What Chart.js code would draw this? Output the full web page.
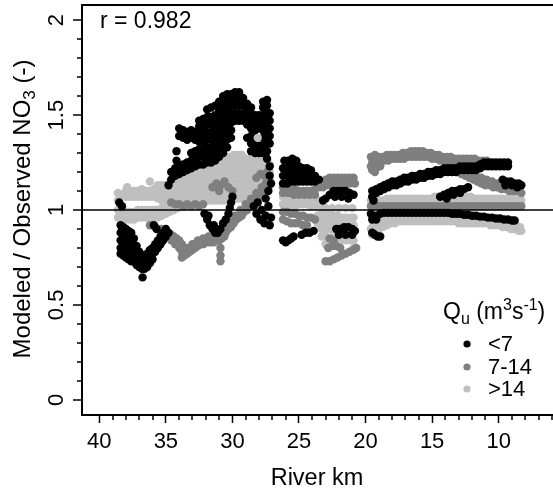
<!DOCTYPE html>
<html>
<head>
<meta charset="utf-8">
<script src="https://cdn.jsdelivr.net/npm/chart.js@4.4.1/dist/chart.umd.min.js"></script>
<style>
html,body{margin:0;padding:0;background:#fff;overflow:hidden;}
#wrap{width:553px;height:492px;overflow:hidden;position:relative;}
canvas{display:block;}
</style>
</head>
<body>
<div id="wrap"><canvas id="c" width="560" height="492" style="width:560px;height:492px"></canvas></div>
<script>
// ---------------- data (river km, modeled/observed NO3 ratio) ----------------
const kmTicks = [10, 15, 20, 25, 30, 35, 40];
const ratioTicks = [0, 0.5, 1, 1.5, 2];
const kmMinorTicks = [6,7,8,9,11,12,13,14,16,17,18,19,21,22,23,24,26,27,28,29,31,32,33,34,36,37,38,39];
const ratioMinorTicks = [0.1,0.2,0.3,0.4,0.6,0.7,0.8,0.9,1.1,1.2,1.3,1.4,1.6,1.7,1.8,1.9];
const refLine = 1;
const corrLabel = 'r = 0.982';
const legendLabels = ['<7', '7-14', '>14'];

// Qu < 7 m3/s
const lowA = [
[38.5,1.04],[38.3,1.02],
[38.4,0.92],[38.4,0.88],[38.4,0.84],[38.4,0.8],[38.4,0.77],
[38.2,0.91],[38.2,0.87],[38.2,0.83],[38.2,0.79],[38.2,0.76],
[38.0,0.9],[38.0,0.86],[38.0,0.82],[38.0,0.78],[38.0,0.75],
[37.8,0.89],[37.8,0.85],[37.8,0.81],[37.8,0.77],[37.8,0.74],
[37.6,0.88],[37.6,0.84],[37.6,0.8],[37.6,0.76],[37.6,0.73],
[37.4,0.85],[37.4,0.81],[37.4,0.77],[37.4,0.73],
[37.2,0.81],[37.2,0.77],[37.2,0.73],[37.2,0.71],
[37.0,0.78],[37.0,0.74],[37.0,0.7],
[36.8,0.76],[36.8,0.72],[36.8,0.69],
[36.75,0.645],
[36.6,0.76],[36.6,0.72],[36.6,0.69],
[36.4,0.77],[36.4,0.73],[36.4,0.7],
[36.2,0.79],[36.2,0.75],[36.2,0.72],
[36.0,0.8],[36.0,0.77],[36.0,0.74],
[35.8,0.82],[35.8,0.78],[35.6,0.84],[35.6,0.8],
[35.4,0.86],[35.4,0.82],[35.2,0.88],[35.2,0.84],
[35.0,0.9],[35.0,0.86],[34.8,0.88],[35.9,0.92],[35.7,0.9],
[34.8,1.13],[34.6,1.16],[34.6,1.2],
[34.3,1.18],[34.3,1.22],[34.2,1.26],[34.2,1.31],
[34.0,1.19],[34.0,1.23],[34.0,1.39],[34.0,1.43],
[33.7,1.2],[33.7,1.24],[33.7,1.38],[33.7,1.42],
[33.4,1.21],[33.4,1.25],[33.4,1.37],[33.4,1.41],
[33.1,1.22],[33.1,1.26],[33.1,1.3],[33.1,1.38],[33.1,1.42],
[32.8,1.23],[32.8,1.27],[32.8,1.31],[32.8,1.37],[32.8,1.41],
[32.5,1.24],[32.5,1.28],[32.5,1.32],[32.5,1.36],[32.5,1.4],[32.5,1.44],[32.5,1.47],
[32.2,1.24],[32.2,1.28],[32.2,1.32],[32.2,1.36],[32.2,1.4],[32.2,1.44],[32.2,1.48],
[31.9,1.25],[31.9,1.29],[31.9,1.33],[31.9,1.37],[31.9,1.41],[31.9,1.45],[31.9,1.49],[31.9,1.53],
[31.6,1.25],[31.6,1.29],[31.6,1.33],[31.6,1.37],[31.6,1.41],[31.6,1.45],[31.6,1.49],[31.6,1.54],
[31.3,1.26],[31.3,1.3],[31.3,1.34],[31.3,1.38],[31.3,1.42],[31.3,1.46],[31.3,1.5],[31.3,1.55],
[31.0,1.28],[31.0,1.32],[31.0,1.36],[31.0,1.4],[31.0,1.44],[31.0,1.48],[31.0,1.52],[31.0,1.57],
[30.7,1.3],[30.7,1.34],[30.7,1.38],[30.7,1.42],[30.7,1.46],[30.7,1.5],[30.7,1.54],[30.7,1.58],[30.7,1.6],
[30.4,1.33],[30.4,1.37],[30.4,1.41],[30.4,1.45],[30.4,1.49],[30.4,1.53],[30.4,1.57],[30.4,1.61],
[30.1,1.38],[30.1,1.42],[30.1,1.46],[30.1,1.5],[30.1,1.54],[30.1,1.58],[30.1,1.61],
[29.8,1.47],[29.8,1.51],[29.8,1.55],[29.8,1.59],[29.8,1.62],
[29.5,1.47],[29.5,1.51],[29.5,1.55],[29.5,1.59],[29.5,1.62],
[29.2,1.47],[29.2,1.51],[29.2,1.55],[29.2,1.59],
[28.9,1.38],[28.9,1.45],[28.9,1.49],[28.9,1.53],[28.9,1.56],
[28.6,1.31],[28.6,1.35],[28.6,1.39],[28.6,1.43],[28.6,1.47],[28.6,1.51],[28.6,1.54],
[28.3,1.3],[28.3,1.34],[28.3,1.38],[28.3,1.42],[28.3,1.46],[28.3,1.5],
[28.0,1.3],[28.0,1.34],[28.0,1.43],[28.0,1.47],[28.0,1.5],
[27.7,1.3],[27.7,1.34],[27.7,1.38],[27.7,1.42],[27.7,1.46],[27.7,1.5],[27.7,1.54],[27.7,1.57],
[27.4,1.27],[27.4,1.31],[27.4,1.35],[27.4,1.39],[27.4,1.43],[27.4,1.47],[27.4,1.51],[27.4,1.55],[27.4,1.58],
[27.2,1.23],[27.2,1.35],[27.2,1.39],[27.2,1.43],[27.2,1.47],[27.2,1.51],
[32.1,0.98],[31.9,0.95],[31.7,0.92],[31.5,0.9],[31.3,0.88],[31.1,0.88],[30.9,0.9],[30.7,0.93],
[30.5,0.95],[30.3,0.98],[30.2,1.01],[30.1,1.04],[30.0,1.07],[31.8,0.97],[31.4,0.92],
[28.4,1.02],[28.2,0.98],[28.1,1.04],[27.9,0.95],[27.8,1.0],[27.6,0.93],[27.5,0.97],[27.3,1.02],
[27.2,0.92],[27.1,0.96],[27.5,1.06],[27.3,1.1],[27.1,1.14],[27.2,1.18]
];
const lowB = [
[26.2,1.14],[26.2,1.18],[26.2,1.22],[26.1,1.26],[25.9,1.14],[25.9,1.18],[25.9,1.22],[25.8,1.26],
[25.6,1.15],[25.6,1.19],[25.6,1.23],[25.5,1.27],[25.3,1.15],[25.3,1.19],[25.3,1.23],[25.2,1.26],
[25.0,1.15],[25.0,1.19],[25.0,1.23],[24.7,1.15],[24.7,1.19],[24.7,1.22],[24.4,1.15],[24.4,1.19],[24.4,1.22],
[24.1,1.15],[24.1,1.18],[24.1,1.21],[23.8,1.15],[23.8,1.18],[23.5,1.16],
[23.2,1.05],[23.0,1.06],[22.7,1.08],[22.4,1.1],[22.1,1.1],[21.8,1.1],[21.5,1.1],[21.2,1.09],[20.9,1.08],
[22.3,1.07],[21.8,1.07],[21.3,1.06],
[26.2,0.84],[26.0,0.83],[25.8,0.84],[25.6,0.85],[25.4,0.86],[24.8,0.87],[24.5,0.88],[24.2,0.88],[23.9,0.89],
[22.2,0.9],[21.9,0.9],[21.6,0.91],[21.3,0.91],[21.0,0.9],[20.8,0.89],[22.0,0.87],[21.5,0.87],[21.0,0.87]
];
const lowC = [
[19.5,1.1],[19.2,1.11],[18.9,1.12],[18.6,1.13],[18.3,1.14],[18.0,1.15],[17.7,1.15],[17.4,1.16],[17.1,1.17],
[16.8,1.17],[16.5,1.18],[16.2,1.18],[15.9,1.19],[15.6,1.19],[15.3,1.2],[15.0,1.2],[14.7,1.21],[14.4,1.21],
[14.1,1.22],[13.8,1.22],[13.5,1.22],[13.2,1.22],[12.9,1.23],[12.6,1.23],[12.3,1.23],[12.0,1.23],[11.7,1.23],
[11.4,1.24],[11.1,1.25],[10.8,1.25],[10.5,1.25],[10.2,1.25],[9.9,1.25],[9.6,1.25],[9.3,1.25],
[19.5,1.07],[19.4,1.05],[19.2,1.09],[18.9,1.1],[18.6,1.11],[18.3,1.12],[18.0,1.13],[17.7,1.13],[17.4,1.14],
[17.1,1.15],[16.8,1.15],[16.5,1.16],[16.2,1.16],[15.9,1.17],[15.6,1.17],[15.3,1.18],[15.0,1.18],[14.7,1.19],
[14.4,1.19],[14.1,1.2],[13.8,1.2],[13.5,1.2],[13.2,1.2],[12.9,1.21],[12.6,1.21],[12.3,1.21],[12.0,1.21],
[11.7,1.21],[11.4,1.22],[11.1,1.23],[10.8,1.23],[10.5,1.23],[10.2,1.23],[9.9,1.23],[9.6,1.23],[9.3,1.23],
[9.7,1.16],[9.4,1.15],[9.1,1.15],[8.8,1.14],[8.5,1.14],[8.3,1.13],[9.5,1.13],[9.0,1.13],[8.6,1.12],
[14.4,1.07],[14.1,1.08],[13.8,1.09],[13.5,1.1],[13.2,1.1],[12.9,1.11],[12.6,1.11],[12.3,1.12],
[13.9,1.06],[13.4,1.08],[12.9,1.09],
[19.6,0.98],[19.4,0.96],[19.5,0.95],[19.2,0.95],[19.2,0.97],[18.9,0.98],[18.6,0.985],[18.3,0.985],[18.0,0.985],
[17.7,0.985],[17.4,0.985],[17.1,0.985],[16.8,0.985],[16.5,0.985],[16.2,0.985],[15.9,0.985],[15.6,0.985],
[15.3,0.985],[15.0,0.985],[14.7,0.985],[14.4,0.985],[14.1,0.985],[13.8,0.985],[13.5,0.98],[13.2,0.98],
[12.9,0.98],[12.6,0.975],[12.3,0.975],[12.0,0.97],[11.7,0.97],[11.4,0.965],[11.1,0.965],[10.8,0.96],
[10.5,0.96],[10.2,0.955],[9.9,0.955],[9.6,0.95],[9.3,0.95],[9.0,0.945],[8.8,0.945],
[19.5,0.88],[19.3,0.87],[19.1,0.86],[18.9,0.86]
];

// Qu 7-14 m3/s
const midA = [
[36.2,0.92],[36.0,0.92],[35.8,0.91],[35.6,0.9],[35.4,0.9],[35.2,0.89],[35.0,0.89],[34.8,0.88],[34.6,0.87],
[34.4,0.86],[34.2,0.85],[34.0,0.84],[33.8,0.82],[33.6,0.8],[34.6,0.84],[34.3,0.82],[34.0,0.8],[33.8,0.78],
[33.8,0.75],[33.6,0.76],[33.4,0.77],[33.2,0.78],[33.0,0.79],[32.8,0.8],[32.6,0.81],[32.4,0.82],[32.2,0.82],
[32.0,0.83],[31.8,0.83],[31.6,0.83],[31.4,0.83],[31.2,0.84],[31.0,0.84],[30.9,0.8],[30.9,0.76],[30.9,0.73],
[30.8,0.85],[30.6,0.86],
[33.4,0.8],[33.0,0.82],[32.6,0.84],[32.2,0.85],[31.8,0.86],[31.4,0.86],[31.0,0.87],
[30.5,0.88],[30.3,0.9],[30.1,0.91],[29.9,0.93],[29.7,0.95],[29.5,0.96],[29.3,0.97],[29.1,0.99],[28.9,1.0],
[28.7,1.02],[28.5,1.03],[28.3,1.05],[28.1,1.06],[27.9,1.08],[27.7,1.09],[27.5,1.1],[27.3,1.12],
[30.2,0.94],[29.8,0.97],[29.4,1.0],[29.0,1.03],[28.6,1.06],[28.2,1.09],[27.8,1.12],[27.5,1.14],
[34.6,1.04],[34.3,1.03],[34.0,1.03],[33.7,1.02],[33.4,1.03],[33.1,1.02],[32.8,1.03],[32.5,1.02],[32.2,1.03],
[31.5,1.12],[31.2,1.14],[30.9,1.13],[30.6,1.15],[30.3,1.12],[30.0,1.1],[31.0,1.1],
[28.2,1.17],[27.9,1.19],[27.6,1.18],[27.4,1.2]
];
const midB = [
[26.2,1.12],[25.9,1.12],[25.6,1.11],[25.3,1.11],[25.0,1.1],[24.7,1.1],[24.4,1.1],[24.1,1.1],[23.8,1.11],[23.5,1.12],
[26.2,1.09],[25.8,1.09],[25.4,1.08],[25.0,1.08],[24.6,1.08],[24.2,1.08],[23.8,1.08],
[23.3,1.14],[23.0,1.16],[22.7,1.17],[22.4,1.17],[22.1,1.17],[21.8,1.17],[21.5,1.17],[21.2,1.17],[20.9,1.17],
[23.2,1.12],[22.8,1.13],[22.4,1.14],[22.0,1.14],[21.6,1.14],[21.2,1.14],[20.8,1.14],
[26.2,0.99],[26.2,0.95],[25.9,0.99],[25.9,0.94],[25.6,0.98],[25.6,0.93],[25.3,0.98],[25.3,0.93],
[25.0,0.97],[25.0,0.93],[24.7,0.97],[24.7,0.92],[24.4,0.96],[24.4,0.92],[24.1,0.96],[23.8,0.95],
[23.0,0.73],[22.7,0.73],[22.4,0.74],[22.1,0.75],[21.8,0.76],[21.5,0.77],[21.2,0.78],[20.9,0.79],[20.7,0.8],
[22.8,0.8],[22.5,0.81],[22.2,0.81],[21.9,0.8],[22.7,0.85],[22.4,0.84]
];
const midC = [
[19.6,1.28],[19.3,1.29],[19.0,1.28],[18.7,1.28],[18.4,1.29],[18.1,1.29],[17.8,1.29],[17.5,1.29],[17.2,1.3],
[16.9,1.3],[16.6,1.31],[16.3,1.31],[16.0,1.31],[15.7,1.31],[15.4,1.3],[15.1,1.3],[14.8,1.29],[14.5,1.29],
[14.2,1.28],[13.9,1.28],[13.6,1.28],[13.3,1.27],[13.0,1.27],[12.7,1.27],[12.4,1.27],[12.1,1.27],[11.8,1.27],
[11.5,1.26],[11.2,1.26],[10.9,1.26],
[19.5,1.25],[19.2,1.26],[18.9,1.26],[18.6,1.26],[18.3,1.26],[18.0,1.27],[17.7,1.27],[17.4,1.27],[17.1,1.27],
[16.8,1.28],[16.5,1.28],[16.2,1.28],[15.9,1.28],[15.6,1.28],[15.3,1.28],[15.0,1.27],[14.7,1.27],[14.4,1.26],
[14.1,1.26],[13.8,1.26],[13.5,1.25],[13.2,1.25],[12.9,1.25],[12.6,1.25],[12.3,1.25],[12.0,1.25],[11.7,1.25],
[11.4,1.25],[11.1,1.25],
[19.5,1.21],[19.3,1.2],[19.6,1.23],[19.2,1.22],[18.9,1.23],
[13.7,1.23],[13.4,1.22],[13.1,1.2],[12.8,1.19],[12.5,1.18],[12.2,1.17],[11.9,1.16],[11.6,1.15],[11.3,1.14],
[11.0,1.13],[10.7,1.13],[10.4,1.12],[10.1,1.12],[9.8,1.11],[9.5,1.11],[9.2,1.1],[8.9,1.1],[8.6,1.1],[8.3,1.09],
[13.3,1.25],[12.9,1.23],[12.5,1.21],[12.1,1.2],[11.7,1.18],[11.3,1.17],[10.9,1.16],[10.5,1.15],[10.1,1.14],
[9.7,1.14],[9.3,1.13],[8.9,1.12],[8.5,1.12],
[19.6,1.02],[19.3,1.02],[19.0,1.02],[18.7,1.02],[18.4,1.02],[18.1,1.02],[17.8,1.02],[17.5,1.02],[17.2,1.02],
[16.9,1.02],[16.6,1.02],[16.3,1.02],[16.0,1.02],[15.7,1.02],[15.4,1.02],[15.1,1.02],[14.8,1.02],[14.5,1.02],
[14.2,1.02],[13.9,1.02],[13.6,1.02],[13.3,1.02],[13.0,1.02],[12.7,1.02],[12.4,1.02],[12.1,1.02],[11.8,1.02],
[11.5,1.02],[11.2,1.02],[10.9,1.02],[10.6,1.02],[10.3,1.02],[10.0,1.02],[9.7,1.02],[9.4,1.02],[9.1,1.02],
[8.8,1.02],[8.5,1.02],[8.3,1.02]
];

// Qu > 14 m3/s
const highA = [
[38.6,0.96],[38.6,1.0],[38.6,1.05],[38.6,1.09],
[38.3,0.95],[38.3,0.99],[38.3,1.08],
[38.0,0.95],[38.0,0.99],[38.0,1.07],[38.0,1.1],[37.9,1.12],
[37.7,0.95],[37.7,0.99],[37.7,1.07],[37.7,1.1],
[37.4,0.95],[37.4,0.99],[37.4,1.07],[37.4,1.1],
[37.1,0.96],[37.1,1.0],[37.1,1.07],[37.1,1.1],
[36.8,0.96],[36.8,1.0],[36.8,1.07],[36.8,1.11],
[36.5,0.96],[36.5,1.0],[36.5,1.07],[36.5,1.1],
[36.2,0.96],[36.2,1.0],[36.2,1.07],[36.2,1.1],[36.2,1.15],
[35.9,0.96],[35.9,1.0],[35.9,1.07],[35.9,1.11],
[35.6,0.96],[35.6,1.0],[35.6,1.06],[35.6,1.1],[35.6,1.13],
[35.3,0.97],[35.3,1.01],[35.3,1.05],[35.3,1.09],[35.3,1.13],
[35.0,0.98],[35.0,1.02],[35.0,1.06],[35.0,1.1],[35.0,1.13],
[34.7,0.99],[34.7,1.03],[34.7,1.07],[34.7,1.11],[34.7,1.14],
[34.4,1.0],[34.4,1.04],[34.4,1.08],[34.4,1.12],[34.4,1.15],
[34.1,1.01],[34.1,1.05],[34.1,1.09],[34.1,1.13],[34.1,1.16],
[33.8,1.02],[33.8,1.06],[33.8,1.1],[33.8,1.14],[33.8,1.17],
[33.5,1.02],[33.5,1.06],[33.5,1.1],[33.5,1.14],[33.5,1.18],
[33.2,1.03],[33.2,1.07],[33.2,1.11],[33.2,1.15],[33.2,1.19],
[32.9,1.03],[32.9,1.07],[32.9,1.11],[32.9,1.15],[32.9,1.19],
[32.6,1.04],[32.6,1.08],[32.6,1.12],[32.6,1.16],[32.6,1.2],
[32.3,1.04],[32.3,1.08],[32.3,1.12],[32.3,1.16],[32.3,1.2],
[32.0,1.05],[32.0,1.09],[32.0,1.13],[32.0,1.17],[32.0,1.21],
[31.7,1.05],[31.7,1.09],[31.7,1.13],[31.7,1.17],[31.7,1.21],
[31.4,1.05],[31.4,1.09],[31.4,1.13],[31.4,1.17],[31.4,1.21],[31.4,1.24],
[31.1,1.05],[31.1,1.09],[31.1,1.13],[31.1,1.17],[31.1,1.21],[31.1,1.25],
[30.8,1.05],[30.8,1.09],[30.8,1.13],[30.8,1.17],[30.8,1.21],[30.8,1.25],
[30.5,1.05],[30.5,1.09],[30.5,1.13],[30.5,1.17],[30.5,1.21],[30.5,1.25],[30.5,1.28],
[30.2,1.05],[30.2,1.09],[30.2,1.13],[30.2,1.17],[30.2,1.21],[30.2,1.25],[30.2,1.28],
[29.9,1.06],[29.9,1.1],[29.9,1.14],[29.9,1.18],[29.9,1.22],[29.9,1.26],[29.9,1.29],
[29.6,1.06],[29.6,1.1],[29.6,1.14],[29.6,1.18],[29.6,1.22],[29.6,1.26],[29.6,1.29],
[29.3,1.06],[29.3,1.1],[29.3,1.14],[29.3,1.18],[29.3,1.22],[29.3,1.26],[29.3,1.29],
[29.0,1.07],[29.0,1.11],[29.0,1.15],[29.0,1.19],[29.0,1.23],[29.0,1.27],
[28.7,1.07],[28.7,1.11],[28.7,1.15],[28.7,1.19],[28.7,1.23],[28.7,1.27],
[28.4,1.08],[28.4,1.12],[28.4,1.16],[28.4,1.2],[28.4,1.24],[28.4,1.28],
[28.1,1.09],[28.1,1.13],[28.1,1.17],[28.1,1.21],[28.1,1.25],[28.1,1.28],
[27.8,1.11],[27.8,1.15],[27.8,1.19],[27.8,1.23],[27.8,1.27],
[27.5,1.13],[27.5,1.17],[27.5,1.21],[27.5,1.25],
[27.2,1.16],[27.2,1.2],[27.2,1.24]
];
const highB = [
[26.2,1.07],[26.2,1.03],[25.9,1.07],[25.9,1.03],[25.6,1.06],[25.6,1.02],[25.3,1.06],[25.3,1.02],
[25.0,1.06],[25.0,1.03],[24.7,1.06],[24.7,1.03],[24.4,1.06],[24.4,1.03],[24.1,1.06],[24.1,1.02],
[23.8,1.06],[23.8,1.02],[23.5,1.05],[23.3,1.02],
[23.0,1.01],[22.5,1.01],[22.0,1.01],[21.5,1.01],[21.0,1.01],
[23.6,0.97],[23.6,0.93],
[23.3,0.98],[23.3,0.94],[23.3,0.9],[23.3,0.86],
[23.0,0.98],[23.0,0.94],[23.0,0.9],[23.0,0.86],[23.0,0.82],
[22.7,0.98],[22.7,0.94],[22.7,0.9],
[22.4,0.97],[22.4,0.93],[22.4,0.89],[22.4,0.85],
[22.1,0.97],[22.1,0.93],[22.1,0.89],[22.1,0.85],
[21.8,0.96],[21.8,0.92],[21.8,0.88],[21.8,0.84],
[21.5,0.96],[21.5,0.92],[21.5,0.88],[21.5,0.84],
[21.2,0.96],[21.2,0.92],[21.2,0.88],[21.2,0.84],
[20.9,0.96],[20.9,0.92],[20.9,0.88],[20.9,0.84],[20.9,0.8]
];
const highC = [
[19.6,1.05],[19.3,1.05],[19.0,1.05],[18.7,1.05],[18.4,1.06],[18.1,1.06],[17.8,1.06],[17.5,1.06],[17.2,1.06],
[16.9,1.06],[16.6,1.06],[16.3,1.06],[16.0,1.06],[15.7,1.06],[15.4,1.06],[15.1,1.06],[14.8,1.07],[14.5,1.07],
[14.2,1.07],[13.9,1.07],[13.6,1.07],[13.3,1.07],[13.0,1.07],[12.7,1.07],[12.4,1.07],[12.1,1.07],[11.8,1.06],
[11.5,1.06],[11.2,1.06],[10.9,1.06],[10.6,1.06],[10.3,1.06],[10.0,1.06],[9.7,1.06],[9.4,1.06],[9.1,1.06],
[8.8,1.06],[8.5,1.05],[8.3,1.05],
[19.5,1.03],[19.2,1.03],[18.9,1.03],[18.6,1.03],[18.3,1.04],[18.0,1.04],[17.7,1.04],[17.4,1.04],[17.1,1.04],
[16.8,1.04],[16.5,1.04],[16.2,1.04],[15.9,1.04],[15.6,1.04],[15.3,1.04],[15.0,1.04],[14.7,1.04],[14.4,1.04],
[14.1,1.04],[13.8,1.04],[13.5,1.04],[13.2,1.04],[12.9,1.04],[12.6,1.04],[12.3,1.04],[12.0,1.04],[11.7,1.04],
[11.4,1.04],[11.1,1.04],[10.8,1.04],[10.5,1.04],[10.2,1.04],[9.9,1.04],[9.6,1.04],[9.3,1.04],[9.0,1.04],
[8.7,1.03],[8.4,1.03],
[19.6,0.9],[19.4,0.92],[19.2,0.93],[18.9,0.94],[18.6,0.95],[18.3,0.95],[18.0,0.96],[17.7,0.96],[17.4,0.96],
[17.1,0.97],[16.8,0.97],[16.5,0.97],[16.2,0.97],[15.9,0.97],[15.6,0.97],[15.3,0.97],[15.0,0.97],[14.7,0.97],
[14.4,0.97],[14.1,0.97],[13.8,0.97],[13.5,0.97],[13.2,0.96],[12.9,0.96],[12.6,0.96],[12.3,0.96],[12.0,0.96],
[11.7,0.96],[11.4,0.96],[11.1,0.96],[10.8,0.95],[10.5,0.95],[10.2,0.94],[9.9,0.94],[9.6,0.94],[9.3,0.93],
[9.0,0.92],[8.7,0.92],[8.4,0.91],
[19.5,0.87],[19.3,0.88],[19.0,0.9],[18.7,0.91],[18.4,0.92],[18.1,0.93],[17.8,0.93],[17.5,0.94],[17.2,0.94],
[16.9,0.94],[16.6,0.94],[16.3,0.94],[16.0,0.94],[15.7,0.94],[15.4,0.94],[15.1,0.94],[14.8,0.94],[14.5,0.94],
[14.2,0.94],[13.9,0.94],[13.6,0.94],[13.3,0.94],[13.0,0.93],[12.7,0.93],[12.4,0.93],[12.1,0.93],[11.8,0.93],
[11.5,0.93],[11.2,0.93],[10.9,0.93],[10.6,0.92],[10.3,0.92],[10.0,0.92],[9.7,0.91],[9.4,0.91],[9.1,0.9],
[8.8,0.9],[8.5,0.89],[8.3,0.89]
];
const highTop = [[28.1,1.38]];

// ---------------- styling ----------------
const FONT = "'Liberation Sans', Arial, Helvetica, sans-serif";
const COL_LOW = '#000000', COL_MID = '#7f7f7f', COL_HIGH = '#bfbfbf';
const legendColors = [COL_LOW, COL_MID, COL_HIGH];
const PR = 4.2;

Chart.defaults.font.family = FONT;
Chart.defaults.color = '#000';

const toXY = arr => arr.map(p => ({x: p[0], y: p[1]}));
function ds(label, pts, color, order) {
  return {label, data: toXY(pts), backgroundColor: color, borderWidth: 0,
    pointRadius: PR, pointHoverRadius: PR, pointStyle: 'circle', order};
}

function drawRich(ctx, parts, x, y) {
  for (const [t, size, dy] of parts) {
    ctx.font = size + 'px ' + FONT;
    ctx.fillText(t, x, y + dy);
    x += ctx.measureText(t).width;
  }
  return x;
}
function richWidth(ctx, parts) {
  let w = 0;
  for (const [t, size] of parts) { ctx.font = size + 'px ' + FONT; w += ctx.measureText(t).width; }
  return w;
}

const decor = {
  id: 'decor',
  afterDatasetsDraw(chart) {
    const {ctx, chartArea: a, scales: {y}} = chart;
    const py = y.getPixelForValue(refLine);
    ctx.save();
    ctx.strokeStyle = '#000'; ctx.lineWidth = 1.6;
    ctx.beginPath(); ctx.moveTo(a.left, py); ctx.lineTo(a.right, py); ctx.stroke();
    ctx.restore();
  },
  afterDraw(chart) {
    const {ctx, chartArea: a, scales: {x, y}} = chart;
    ctx.save();
    // box
    ctx.strokeStyle = '#000'; ctx.lineWidth = 2;
    ctx.strokeRect(a.left, a.top, a.right - a.left, a.bottom - a.top);
    // y major ticks + minor ticks
    ctx.lineWidth = 1.5;
    ctx.beginPath();
    for (const v of ratioTicks) { const py = Math.round(y.getPixelForValue(v)); ctx.moveTo(a.left, py); ctx.lineTo(a.left - 9, py); }
    for (const v of kmMinorTicks) { const px = Math.round(x.getPixelForValue(v)); ctx.moveTo(px, a.bottom); ctx.lineTo(px, a.bottom + 5); }
    for (const v of ratioMinorTicks) { const py = Math.round(y.getPixelForValue(v)); ctx.moveTo(a.left, py); ctx.lineTo(a.left - 5, py); }
    ctx.stroke();
    ctx.fillStyle = '#000';
    // y tick labels (rotated, reading upward)
    ctx.font = '22px ' + FONT;
    ctx.textAlign = 'center';
    ctx.textBaseline = 'middle';
    for (const v of ratioTicks) {
      ctx.save();
      ctx.translate(57, y.getPixelForValue(v));
      ctx.rotate(-Math.PI / 2);
      ctx.fillText(String(v), 0, 0);
      ctx.restore();
    }
    ctx.textBaseline = 'alphabetic';
    ctx.textAlign = 'left';
    // correlation label
    ctx.font = '23px ' + FONT;
    ctx.fillText(corrLabel, 100, 28);
    // x title
    ctx.font = '23.5px ' + FONT;
    ctx.textAlign = 'center';
    ctx.fillText('River km', 317, 485);
    ctx.textAlign = 'left';
    // y title (rotated, with subscript)
    const yParts = [['Modeled / Observed NO', 24, 0], ['3', 17, 5], [' (-)', 24, 0]];
    ctx.save();
    ctx.translate(30, 209);
    ctx.rotate(-Math.PI / 2);
    drawRich(ctx, yParts, -richWidth(ctx, yParts) / 2, 0);
    ctx.restore();
    // legend
    const tParts = [['Q', 23, 0], ['u', 16, 5], [' (m', 23, 0], ['3', 16, -9], ['s', 23, 0], ['-1', 16, -9], [')', 23, 0]];
    drawRich(ctx, tParts, 443, 319);
    const rows = [344, 367, 389];
    ctx.font = '22px ' + FONT;
    ctx.textBaseline = 'middle';
    legendLabels.forEach((lab, i) => {
      ctx.fillStyle = legendColors[i];
      ctx.beginPath(); ctx.arc(467, rows[i], 3.6, 0, Math.PI * 2); ctx.fill();
      ctx.fillStyle = '#000';
      ctx.fillText(lab, 488, rows[i] + 1);
    });
    ctx.restore();
  }
};

new Chart(document.getElementById('c'), {
  type: 'scatter',
  data: {
    datasets: [
      ds('>14 top', highTop, COL_HIGH, 0),
      ds('<7', lowA.concat(lowB, lowC), COL_LOW, 1),
      ds('7-14', midA.concat(midB, midC), COL_MID, 2),
      ds('>14', highA.concat(highB, highC), COL_HIGH, 3)
    ]
  },
  options: {
    responsive: false,
    devicePixelRatio: 1,
    animation: false,
    events: [],
    layout: {padding: {left: 0, right: 4, top: 5, bottom: 0}},
    plugins: {legend: {display: false}, tooltip: {enabled: false}},
    scales: {
      x: {
        type: 'linear', reverse: true, min: 5.71, max: 41.3,
        afterBuildTicks: s => { s.ticks = kmTicks.map(v => ({value: v})); },
        afterFit: s => { s.height = 77; s.paddingLeft = 0; s.paddingRight = 0; },
        grid: {drawOnChartArea: false, drawTicks: true, tickLength: 8, tickColor: '#000', tickWidth: 1.5, color: '#000'},
        border: {display: false},
        ticks: {color: '#000', font: {size: 22}, padding: 6, maxRotation: 0, minRotation: 0, autoSkip: false,
          callback: v => String(v)}
      },
      y: {
        type: 'linear', min: -0.08, max: 2.08,
        afterBuildTicks: s => { s.ticks = ratioTicks.map(v => ({value: v})); },
        afterFit: s => { s.width = 82; s.paddingTop = 0; s.paddingBottom = 0; },
        grid: {display: false},
        border: {display: false},
        ticks: {display: false}
      }
    }
  },
  plugins: [decor]
});
</script>
</body>
</html>
